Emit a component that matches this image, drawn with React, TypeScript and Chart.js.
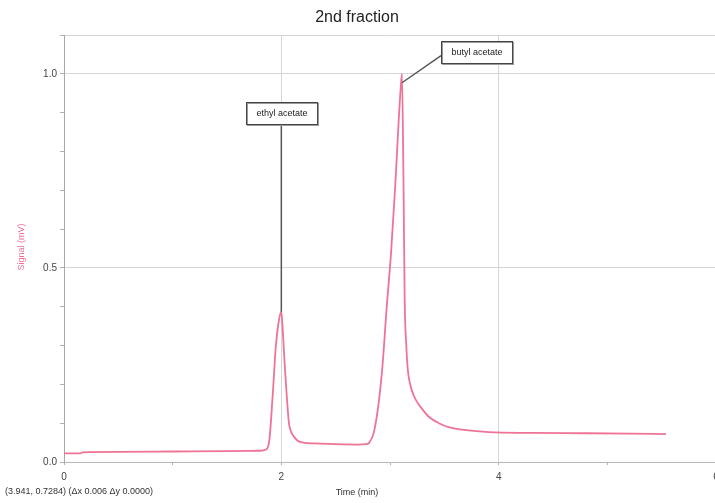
import React, { useEffect, useRef } from "react";
import { Chart, registerables } from "chart.js";

Chart.register(...registerables);

// ---- data ----
const timeMin = [
  0, 0.15, 0.17, 0.5, 1.0, 1.5, 1.8, 1.86, 1.89, 1.92, 1.95, 1.975, 2.0, 2.015,
  2.03, 2.05, 2.07, 2.085, 2.1, 2.17, 2.3, 2.5, 2.7, 2.78, 2.81, 2.85, 2.89, 2.93,
  2.97, 3.01, 3.05, 3.08, 3.1, 3.11, 3.125, 3.135, 3.15, 3.165, 3.19, 3.22, 3.26,
  3.3, 3.36, 3.45, 3.54, 3.7, 3.91, 4.3, 4.8, 5.2, 5.54,
];
const signalMv = [
  0.022, 0.022, 0.025, 0.026, 0.027, 0.028, 0.029, 0.032, 0.057, 0.17, 0.3, 0.36,
  0.387, 0.33, 0.255, 0.17, 0.1, 0.082, 0.072, 0.052, 0.048, 0.046, 0.045, 0.046,
  0.05, 0.075, 0.14, 0.245, 0.4, 0.54, 0.72, 0.88, 0.97, 1.0, 0.7, 0.42, 0.3,
  0.235, 0.195, 0.17, 0.15, 0.135, 0.116, 0.1, 0.09, 0.082, 0.077, 0.075, 0.074,
  0.073, 0.072,
];
const yMajorTicks = [0, 0.5, 1.0];
const xMajorTicks = [0, 2, 4, 6];

const peakNames = ["ethyl acetate", "butyl acetate"];
const peakTimes = [2.0, 3.11];
const peakSignals = [0.387, 0.977];

const chartTitle = "2nd fraction";
const xTitle = "Time (min)";
const yTitle = "Signal (mV)";
const cursorText = "(3.941, 0.7284) (\u0394x 0.006 \u0394y 0.0000)";

const FONT = '"Liberation Sans", Arial, sans-serif';
const PINK = "#ef7396";

const isMajor = (v: number, majors: number[]) =>
  majors.some((m) => Math.abs(m - v) < 1e-6);

const overlayPlugin = {
  id: "overlay",
  afterDraw(chart: any) {
    const { ctx, scales } = chart;
    const x = scales.x;
    const y = scales.y;
    ctx.save();

    ctx.fillStyle = "#222";
    ctx.font = `16px ${FONT}`;
    ctx.textAlign = "center";
    ctx.textBaseline = "middle";
    ctx.fillText(chartTitle, 357, 18);

    ctx.save();
    ctx.translate(22, 247);
    ctx.rotate(-Math.PI / 2);
    ctx.fillStyle = PINK;
    ctx.font = `9px ${FONT}`;
    ctx.fillText(yTitle, 0, 0);
    ctx.restore();

    ctx.fillStyle = "#333";
    ctx.font = `9px ${FONT}`;
    ctx.fillText(xTitle, 357, 493);
    ctx.textAlign = "left";
    ctx.fillText(cursorText, 5, 492);

    const drawBox = (label: string, cx: number, cy: number) => {
      ctx.font = `9px ${FONT}`;
      const w = ctx.measureText(label).width + 20;
      const h = 22;
      const bx = Math.round(cx - w / 2) + 0.5;
      const by = Math.round(cy - h / 2) + 0.5;
      ctx.fillStyle = "#ffffff";
      ctx.fillRect(bx, by, w, h);
      ctx.strokeStyle = "#9a9a9a";
      ctx.lineWidth = 1;
      ctx.strokeRect(bx + 1, by + 1, w, h);
      ctx.strokeStyle = "#444";
      ctx.strokeRect(bx, by, w, h);
      ctx.fillStyle = "#222";
      ctx.textAlign = "center";
      ctx.textBaseline = "middle";
      ctx.fillText(label, bx + w / 2, by + h / 2 + 0.5);
    };

    ctx.strokeStyle = "#555";
    ctx.lineWidth = 1.5;
    const ePx = x.getPixelForValue(peakTimes[0]);
    const ePy = y.getPixelForValue(peakSignals[0]);
    const eBoxCy = y.getPixelForValue(0.9);
    ctx.beginPath();
    ctx.moveTo(ePx, eBoxCy);
    ctx.lineTo(ePx, ePy);
    ctx.stroke();
    drawBox(peakNames[0], ePx, eBoxCy);

    const bPx = x.getPixelForValue(peakTimes[1]);
    const bPy = y.getPixelForValue(peakSignals[1]);
    const bLeft = x.getPixelForValue(3.47);
    const bCy = y.getPixelForValue(1.057);
    ctx.font = `9px ${FONT}`;
    const bw = ctx.measureText(peakNames[1]).width + 20;
    ctx.strokeStyle = "#555";
    ctx.lineWidth = 1.5;
    ctx.beginPath();
    ctx.moveTo(bLeft, bCy + 4);
    ctx.lineTo(bPx, bPy);
    ctx.stroke();
    drawBox(peakNames[1], bLeft + bw / 2, bCy);

    ctx.restore();
  },
};

export default function App() {
  const canvasRef = useRef<HTMLCanvasElement | null>(null);

  useEffect(() => {
    if (!canvasRef.current) return;
    const points = timeMin.map((t, i) => ({ x: t, y: signalMv[i] }));
    const chart = new Chart(canvasRef.current, {
      type: "line",
      data: {
        datasets: [
          {
            data: points,
            borderColor: PINK,
            borderWidth: 1.8,
            pointRadius: 0,
            fill: false,
            cubicInterpolationMode: "monotone",
          },
        ],
      },
      options: {
        responsive: false,
        animation: false,
        layout: { padding: { top: 35, left: 0, right: 14, bottom: 0 } },
        plugins: {
          legend: { display: false },
          tooltip: { enabled: false },
          title: { display: false },
        },
        scales: {
          x: {
            type: "linear",
            min: 0,
            max: 6,
            afterFit: (s: any) => {
              s.height = 41;
            },
            border: { display: true, color: "#b8b8b8" },
            grid: {
              color: (c: any) =>
                c.tick && isMajor(c.tick.value, [2, 4, 6]) ? "#d6d6d6" : "rgba(0,0,0,0)",
              tickColor: "#b0b0b0",
              tickLength: 3,
            },
            ticks: {
              stepSize: 1,
              autoSkip: false,
              maxRotation: 0,
              padding: 6,
              color: "#444",
              font: { family: FONT, size: 10 },
              callback: (v: any) =>
                isMajor(Number(v), xMajorTicks) ? String(Math.round(Number(v))) : "",
            },
          },
          y: {
            type: "linear",
            min: 0,
            max: 1.1,
            afterFit: (s: any) => {
              s.width = 64;
            },
            border: { display: true, color: "#a8a8a8" },
            grid: {
              color: (c: any) =>
                c.tick && isMajor(c.tick.value, [0.5, 1.0, 1.1]) ? "#d6d6d6" : "rgba(0,0,0,0)",
              tickColor: "#b0b0b0",
              tickLength: 4,
            },
            ticks: {
              stepSize: 0.1,
              autoSkip: false,
              padding: 3,
              color: "#444",
              font: { family: FONT, size: 10 },
              callback: (v: any) =>
                isMajor(Number(v), yMajorTicks) ? Number(v).toFixed(1) : "",
            },
          },
        },
      },
      plugins: [overlayPlugin],
    } as any);
    return () => chart.destroy();
  }, []);

  return (
    <div
      style={{
        position: "fixed",
        left: 0,
        top: 0,
        width: 715,
        height: 503,
        overflow: "hidden",
        background: "#fff",
      }}
    >
      <canvas
        ref={canvasRef}
        width={730}
        height={503}
        style={{ display: "block", width: 730, height: 503 }}
      />
    </div>
  );
}
